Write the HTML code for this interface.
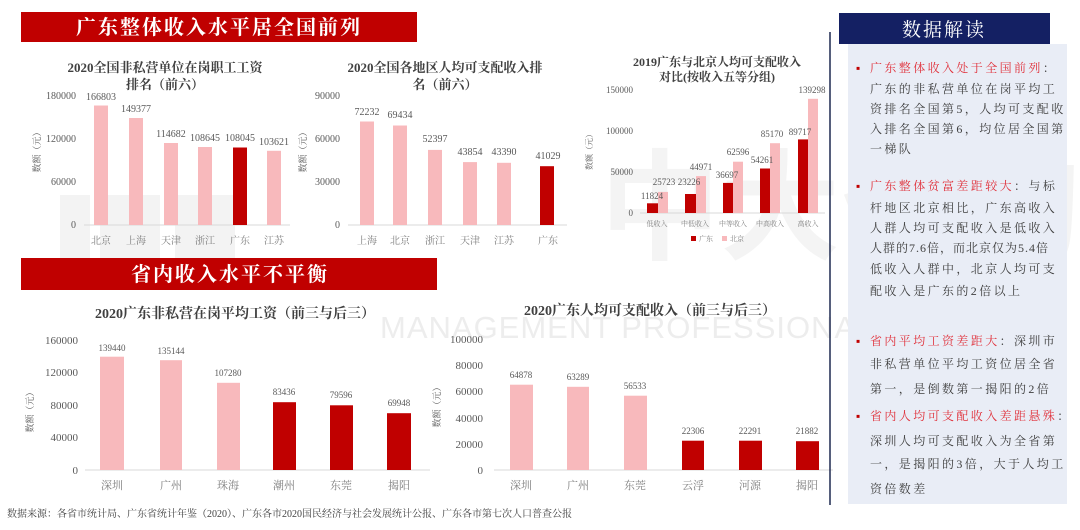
<!DOCTYPE html>
<html><head><meta charset="utf-8"><style>
html,body{margin:0;padding:0;background:#fff;}
svg{display:block;font-family:"Liberation Serif","Noto Serif CJK SC",serif;}
</style></head><body>
<svg width="1080" height="530" viewBox="0 0 1080 530" xmlns="http://www.w3.org/2000/svg">
<!-- watermark -->
<g fill="#f3f3f3">
<rect x="60" y="195" width="30" height="75"/><rect x="100" y="195" width="60" height="75"/>
<rect x="175" y="195" width="60" height="75"/>
<text x="600" y="250" font-size="120" font-family="Liberation Sans,Noto Sans CJK SC,sans-serif" font-weight="bold" fill="#f4f4f4">中大咨询</text>
<text x="380" y="338" font-size="31" font-family="Liberation Sans,sans-serif" fill="#ededed" letter-spacing="1">MANAGEMENT PROFESSIONAL GROUP</text>
</g>

<!-- banners -->
<rect x="21" y="12" width="396" height="30" fill="#c00000"/>
<text x="219" y="34" font-size="20" fill="#fff" text-anchor="middle" font-weight="bold" letter-spacing="2">广东整体收入水平居全国前列</text>
<rect x="21" y="258" width="416" height="32" fill="#c00000"/>
<text x="230" y="281" font-size="20" fill="#fff" text-anchor="middle" font-weight="bold" letter-spacing="2">省内收入水平不平衡</text>

<!-- chart 1 -->
<g font-size="10" fill="#595959">
<text x="165" y="72" text-anchor="middle" font-size="13" font-weight="bold" fill="#404040">2020全国非私营单位在岗职工工资</text>
<text x="165" y="89" text-anchor="middle" font-size="13" font-weight="bold" fill="#404040">排名（前六）</text>
<text x="76" y="99" text-anchor="end">180000</text><text x="76" y="142" text-anchor="end">120000</text>
<text x="76" y="185" text-anchor="end">60000</text><text x="76" y="228" text-anchor="end">0</text>
<text transform="translate(40,150) rotate(-90)" text-anchor="middle" font-size="9">数额（元）</text>
<line x1="84" y1="225" x2="290" y2="225" stroke="#d9d9d9"/>
<rect x="94" y="105.5" width="14" height="119.5" fill="#f8b9bc"/>
<rect x="129" y="118" width="14" height="107" fill="#f8b9bc"/>
<rect x="164" y="143" width="14" height="82" fill="#f8b9bc"/>
<rect x="198" y="147" width="14" height="78" fill="#f8b9bc"/>
<rect x="233" y="147.5" width="14" height="77.5" fill="#c00000"/>
<rect x="267" y="150.8" width="14" height="74.2" fill="#f8b9bc"/>
<text x="101" y="100" text-anchor="middle">166803</text><text x="136" y="112" text-anchor="middle">149377</text>
<text x="171" y="137" text-anchor="middle">114682</text><text x="205" y="141" text-anchor="middle">108645</text>
<text x="240" y="141" text-anchor="middle">108045</text><text x="274" y="145" text-anchor="middle">103621</text>
<g font-size="10" fill="#7f7f7f"><text x="101" y="244" text-anchor="middle">北京</text><text x="136" y="244" text-anchor="middle">上海</text><text x="171" y="244" text-anchor="middle">天津</text><text x="205" y="244" text-anchor="middle">浙江</text><text x="240" y="244" text-anchor="middle">广东</text><text x="274" y="244" text-anchor="middle">江苏</text></g>
</g>

<!-- chart 2 -->
<g font-size="10" fill="#595959">
<text x="445" y="72" text-anchor="middle" font-size="13" font-weight="bold" fill="#404040">2020全国各地区人均可支配收入排</text>
<text x="445" y="89" text-anchor="middle" font-size="13" font-weight="bold" fill="#404040">名（前六）</text>
<text x="340" y="99" text-anchor="end">90000</text><text x="340" y="142" text-anchor="end">60000</text>
<text x="340" y="185" text-anchor="end">30000</text><text x="340" y="228" text-anchor="end">0</text>
<text transform="translate(306,150) rotate(-90)" text-anchor="middle" font-size="9">数额（元）</text>
<line x1="348" y1="225" x2="567" y2="225" stroke="#d9d9d9"/>
<rect x="360" y="121.5" width="14" height="103.5" fill="#f8b9bc"/>
<rect x="393" y="125.5" width="14" height="99.5" fill="#f8b9bc"/>
<rect x="428" y="149.9" width="14" height="75.1" fill="#f8b9bc"/>
<rect x="463" y="162.1" width="14" height="62.9" fill="#f8b9bc"/>
<rect x="497" y="162.8" width="14" height="62.2" fill="#f8b9bc"/>
<rect x="540" y="166.2" width="14" height="58.8" fill="#c00000"/>
<text x="367" y="115" text-anchor="middle">72232</text><text x="400" y="118" text-anchor="middle">69434</text>
<text x="435" y="142" text-anchor="middle">52397</text><text x="470" y="155" text-anchor="middle">43854</text>
<text x="504" y="155" text-anchor="middle">43390</text><text x="548" y="159" text-anchor="middle">41029</text>
<g fill="#7f7f7f"><text x="367" y="244" text-anchor="middle">上海</text><text x="400" y="244" text-anchor="middle">北京</text><text x="435" y="244" text-anchor="middle">浙江</text><text x="470" y="244" text-anchor="middle">天津</text><text x="504" y="244" text-anchor="middle">江苏</text><text x="548" y="244" text-anchor="middle">广东</text></g>
</g>

<!-- chart 3 -->
<g font-size="9" fill="#595959">
<text x="717" y="66" text-anchor="middle" font-size="12" font-weight="bold" fill="#404040">2019广东与北京人均可支配收入</text>
<text x="717" y="81" text-anchor="middle" font-size="12" font-weight="bold" fill="#404040">对比(按收入五等分组)</text>
<text x="633" y="93" text-anchor="end">150000</text><text x="633" y="134" text-anchor="end">100000</text>
<text x="633" y="175" text-anchor="end">50000</text><text x="633" y="216" text-anchor="end">0</text>
<text transform="translate(592,150) rotate(-90)" text-anchor="middle" font-size="8">数额（元）</text>
<line x1="640" y1="213" x2="825" y2="213" stroke="#d9d9d9"/>
<rect x="647" y="203.3" width="11" height="9.7" fill="#c00000"/><rect x="658" y="191.9" width="10" height="21.1" fill="#f8b9bc"/>
<rect x="685" y="194" width="11" height="19" fill="#c00000"/><rect x="696" y="176.1" width="10" height="36.9" fill="#f8b9bc"/>
<rect x="723" y="182.9" width="10" height="30.1" fill="#c00000"/><rect x="733" y="161.7" width="10" height="51.3" fill="#f8b9bc"/>
<rect x="760" y="168.5" width="10" height="44.5" fill="#c00000"/><rect x="770" y="143.2" width="10" height="69.8" fill="#f8b9bc"/>
<rect x="798" y="139.4" width="10" height="73.6" fill="#c00000"/><rect x="808" y="98.8" width="10" height="114.2" fill="#f8b9bc"/>
<g font-size="9">
<text x="652" y="199" text-anchor="middle">11824</text><text x="664" y="185" text-anchor="middle">25723</text>
<text x="689" y="185" text-anchor="middle">23226</text><text x="701" y="170" text-anchor="middle">44971</text>
<text x="727" y="178" text-anchor="middle">36697</text><text x="738" y="155" text-anchor="middle">62596</text>
<text x="762" y="163" text-anchor="middle">54261</text><text x="772" y="137" text-anchor="middle">85170</text>
<text x="800" y="135" text-anchor="middle">89717</text><text x="812" y="93" text-anchor="middle">139298</text>
</g>
<g font-size="7" fill="#7f7f7f"><text x="657" y="226" text-anchor="middle">低收入</text><text x="695" y="226" text-anchor="middle">中低收入</text><text x="733" y="226" text-anchor="middle">中等收入</text><text x="770" y="226" text-anchor="middle">中高收入</text><text x="808" y="226" text-anchor="middle">高收入</text>
<rect x="691" y="236" width="5" height="5" fill="#c00000"/><text x="699" y="241">广东</text>
<rect x="722" y="236" width="5" height="5" fill="#f8b9bc"/><text x="730" y="241">北京</text></g>
</g>

<!-- bottom chart 1 -->
<g font-size="11" fill="#595959">
<text x="235" y="318" text-anchor="middle" font-size="14" font-weight="bold" fill="#404040">2020广东非私营在岗平均工资（前三与后三）</text>
<text x="78" y="344" text-anchor="end">160000</text><text x="78" y="376" text-anchor="end">120000</text>
<text x="78" y="409" text-anchor="end">80000</text><text x="78" y="441" text-anchor="end">40000</text><text x="78" y="474" text-anchor="end">0</text>
<text transform="translate(33,410) rotate(-90)" text-anchor="middle" font-size="9">数额（元）</text>
<line x1="85" y1="470" x2="430" y2="470" stroke="#d9d9d9"/>
<rect x="100" y="356.7" width="24" height="113.3" fill="#f8b9bc"/>
<rect x="160" y="360.2" width="22" height="109.8" fill="#f8b9bc"/>
<rect x="217" y="382.8" width="23" height="87.2" fill="#f8b9bc"/>
<rect x="273" y="402.2" width="23" height="67.8" fill="#c00000"/>
<rect x="330" y="405.3" width="23" height="64.7" fill="#c00000"/>
<rect x="387" y="413.2" width="24" height="56.8" fill="#c00000"/>
<g font-size="9"><text x="112" y="351" text-anchor="middle">139440</text><text x="171" y="354" text-anchor="middle">135144</text><text x="228" y="376" text-anchor="middle">107280</text><text x="284" y="395" text-anchor="middle">83436</text><text x="341" y="398" text-anchor="middle">79596</text><text x="399" y="406" text-anchor="middle">69948</text></g>
<g fill="#7f7f7f"><text x="112" y="489" text-anchor="middle">深圳</text><text x="171" y="489" text-anchor="middle">广州</text><text x="228" y="489" text-anchor="middle">珠海</text><text x="284" y="489" text-anchor="middle">潮州</text><text x="341" y="489" text-anchor="middle">东莞</text><text x="399" y="489" text-anchor="middle">揭阳</text></g>
</g>

<!-- bottom chart 2 -->
<g font-size="11" fill="#595959">
<text x="650" y="315" text-anchor="middle" font-size="14" font-weight="bold" fill="#404040">2020广东人均可支配收入（前三与后三）</text>
<text x="483" y="343" text-anchor="end">100000</text><text x="483" y="369" text-anchor="end">80000</text>
<text x="483" y="395" text-anchor="end">60000</text><text x="483" y="422" text-anchor="end">40000</text>
<text x="483" y="448" text-anchor="end">20000</text><text x="483" y="474" text-anchor="end">0</text>
<text transform="translate(440,405) rotate(-90)" text-anchor="middle" font-size="9">数额（元）</text>
<line x1="494" y1="470" x2="833" y2="470" stroke="#d9d9d9"/>
<rect x="510" y="384.7" width="23" height="85.3" fill="#f8b9bc"/>
<rect x="567" y="386.8" width="22" height="83.2" fill="#f8b9bc"/>
<rect x="624" y="395.7" width="23" height="74.3" fill="#f8b9bc"/>
<rect x="682" y="440.7" width="22" height="29.3" fill="#c00000"/>
<rect x="739" y="440.7" width="23" height="29.3" fill="#c00000"/>
<rect x="796" y="441.2" width="23" height="28.8" fill="#c00000"/>
<g font-size="9"><text x="521" y="378" text-anchor="middle">64878</text><text x="578" y="380" text-anchor="middle">63289</text><text x="635" y="389" text-anchor="middle">56533</text><text x="693" y="434" text-anchor="middle">22306</text><text x="750" y="434" text-anchor="middle">22291</text><text x="807" y="434" text-anchor="middle">21882</text></g>
<g fill="#7f7f7f"><text x="521" y="489" text-anchor="middle">深圳</text><text x="578" y="489" text-anchor="middle">广州</text><text x="635" y="489" text-anchor="middle">东莞</text><text x="693" y="489" text-anchor="middle">云浮</text><text x="750" y="489" text-anchor="middle">河源</text><text x="807" y="489" text-anchor="middle">揭阳</text></g>
</g>

<text x="7" y="517" font-size="10" fill="#404040">数据来源：各省市统计局、广东省统计年鉴（2020）、广东各市2020国民经济与社会发展统计公报、广东各市第七次人口普查公报</text>

<!-- panel -->
<line x1="830" y1="32" x2="830" y2="505" stroke="#1f2a50" stroke-width="1.5"/>
<rect x="848" y="44" width="219" height="460" fill="#e9edf6"/>
<rect x="839" y="13" width="211" height="31" fill="#142063"/>
<text x="944" y="36" font-size="19" fill="#fff" text-anchor="middle" letter-spacing="2">数据解读</text>
<g font-size="12" fill="#404040" letter-spacing="2.4">
<text x="856" y="72" fill="#c00000">▪</text>
<text x="870" y="72" fill="#e0303a">广东整体收入处于全国前列<tspan fill="#404040">：</tspan></text>
<text x="870" y="93">广东的非私营单位在岗平均工</text>
<text x="870" y="113">资排名全国第5，人均可支配收</text>
<text x="870" y="133">入排名全国第6，均位居全国第</text>
<text x="870" y="153">一梯队</text>
<text x="856" y="190" fill="#c00000">▪</text>
<text x="870" y="190"><tspan fill="#e0303a">广东整体贫富差距较大</tspan>：与标</text>
<text x="870" y="212">杆地区北京相比，广东高收入</text>
<text x="870" y="232">人群人均可支配收入是低收入</text>
<text x="870" y="252" letter-spacing="1">人群的7.6倍，而北京仅为5.4倍</text>
<text x="870" y="273">低收入人群中，北京人均可支</text>
<text x="870" y="295">配收入是广东的2倍以上</text>
<text x="856" y="345" fill="#c00000">▪</text>
<text x="870" y="345"><tspan fill="#e0303a">省内平均工资差距大</tspan>：深圳市</text>
<text x="870" y="368">非私营单位平均工资位居全省</text>
<text x="870" y="393">第一，是倒数第一揭阳的2倍</text>
<text x="856" y="420" fill="#c00000">▪</text>
<text x="870" y="420" fill="#e0303a">省内人均可支配收入差距悬殊<tspan fill="#404040">：</tspan></text>
<text x="870" y="445">深圳人均可支配收入为全省第</text>
<text x="870" y="468">一，是揭阳的3倍，大于人均工</text>
<text x="870" y="493">资倍数差</text>
</g>
</svg>
</body></html>
